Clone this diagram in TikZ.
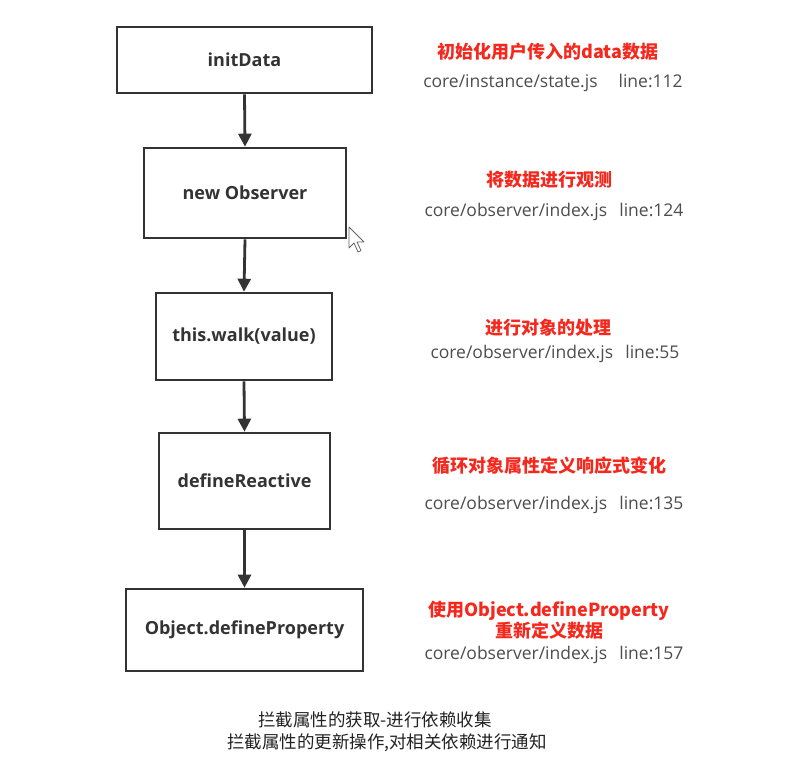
\documentclass[tikz,border=0pt]{standalone}
\usepackage{fontspec}
\setmainfont{Open Sans}
\newfontfamily\cjk{Noto Sans CJK SC}
\usetikzlibrary{arrows.meta}

\definecolor{boxline}{HTML}{333333}
\definecolor{labeltext}{HTML}{333333}
\definecolor{notered}{HTML}{F5281E}
\definecolor{pathgray}{HTML}{4D4D4D}
\definecolor{captiontext}{HTML}{222222}

\tikzset{
  stepbox/.style={draw=boxline, line width=2.6pt, fill=white, inner sep=0pt,
    font=\fontsize{18}{21}\selectfont\bfseries, text=labeltext},
  flow/.style={draw=boxline, line width=2.8pt,
    -{Triangle[width=13pt,length=13pt]}},
  rednote/.style={text=notered, font=\cjk\bfseries\fontsize{18}{22}\selectfont,
    align=center, inner sep=0pt},
  pathnote/.style={text=pathgray, font=\fontsize{17.5}{20}\selectfont, inner sep=0pt},
  caption/.style={text=captiontext, font=\cjk\fontsize{17.5}{20}\selectfont, inner sep=0pt},
}

\begin{document}
\begin{tikzpicture}[x=1pt, y=-1pt]
  \useasboundingbox[fill=white] (0,0) rectangle (785,767);

  % call chain
  \node[stepbox, minimum width=255pt, minimum height=66pt] (b1) at (244.5,60) {initData};
  \node[stepbox, minimum width=202pt, minimum height=90pt] (b2) at (245,193) {new Observer};
  \node[stepbox, minimum width=176pt, minimum height=87pt] (b3) at (244,336.5) {this.walk(value)};
  \node[stepbox, minimum width=171pt, minimum height=96pt] (b4) at (244.5,481) {defineReactive};
  \node[stepbox, minimum width=237pt, minimum height=82pt] (b5) at (244.5,630) {Object.defineProperty};

  \draw[flow] (b1.south) -- (b2.north);
  \draw[flow] (b2.south) -- (b3.north);
  \draw[flow] (b3.south) -- (b4.north);
  \draw[flow] (b4.south) -- (b5.north);

  % notes beside each step
  \node[rednote] (r1) at (548,52) {初始化用户传入的data数据};
  \node[pathnote] (p1) at (553,83) {core/instance/state.js\hspace{1.2em}line:112};

  \node[rednote] (r2) at (549,180) {将数据进行观测};
  \node[pathnote] (p2) at (554,212) {core/observer/index.js\hspace{0.7em}line:124};

  \node[rednote] (r3) at (548,328) {进行对象的处理};
  \node[pathnote] (p3) at (555,354) {core/observer/index.js\hspace{0.7em}line:55};

  \node[rednote] (r4) at (549,466) {循环对象属性定义响应式变化};
  \node[pathnote] (p4) at (554,505) {core/observer/index.js\hspace{0.7em}line:135};

  \node[rednote] (r5) at (549,620) {使用Object.defineProperty\\[-1pt]重新定义数据};
  \node[pathnote] (p5) at (554,655) {core/observer/index.js\hspace{0.7em}line:157};

  % caption under the chain
  \node[caption] (c1) at (375,720) {拦截属性的获取-进行依赖收集};
  \node[caption] (c2) at (387,743) {拦截属性的更新操作,对相关依赖进行通知};

  % mouse pointer
  \draw[fill=white, draw=black!60, line width=0.8pt, line join=round]
    (349,227) -- ++(0,21) -- ++(5,-5) -- ++(4,9) -- ++(3,-1.3) -- ++(-4,-8.7) -- ++(7,0) -- cycle;
\end{tikzpicture}
\end{document}
